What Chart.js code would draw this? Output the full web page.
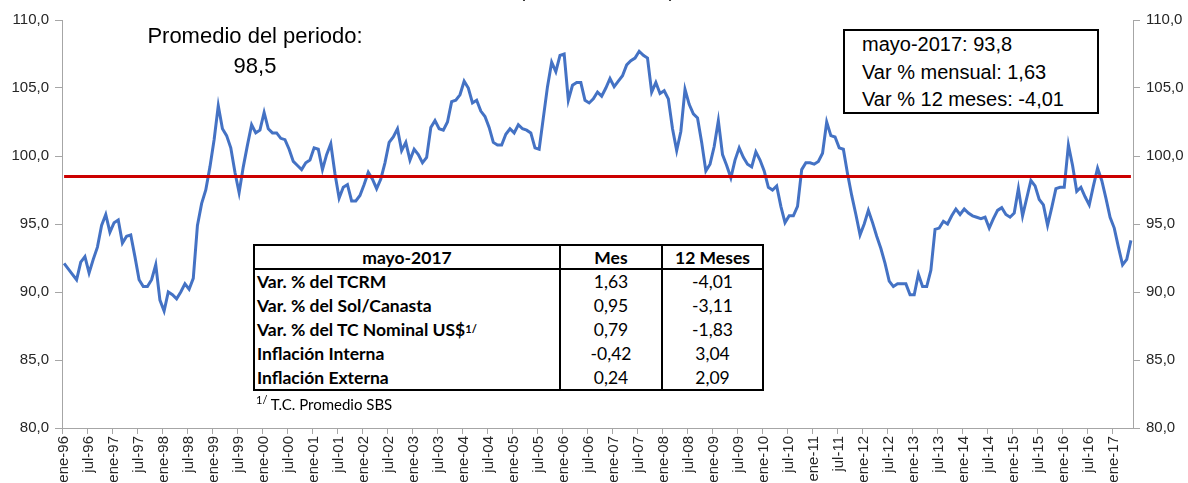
<!DOCTYPE html>
<html lang="es">
<head>
<meta charset="utf-8">
<title>Tipo de cambio real multilateral</title>
<script src="https://cdn.jsdelivr.net/npm/chart.js@4.4.1/dist/chart.umd.min.js"></script>
<style>
  html, body { margin: 0; padding: 0; background: #fff; }
  #lienzo { position: relative; width: 1188px; height: 483px; overflow: hidden;
            font-family: "Liberation Sans", Arial, sans-serif; color: #000; }
  #grafico { position: absolute; left: 0; top: 0; }
  .nota { position: absolute; white-space: nowrap; }
  #titulo { left: 447px; width: 300px; top: -18px; font-size: 18px; line-height: 18px; text-align: center; }
  #promedio { left: 135px; width: 240px; top: 21px; font-size: 22px; line-height: 30px; text-align: center; }
  #recuadro { left: 843px; top: 29px; width: 256px; height: 85px; box-sizing: border-box;
              border: 2px solid #000; padding-left: 17px; font-size: 20px; line-height: 27.5px; background: #fff; }
  #tabla { position: absolute; left: 253px; top: 244px; width: 511px; height: 147px; box-sizing: border-box;
           border: 2.5px solid #000; background: #fff; display: grid;
           grid-template-columns: 304px 102px 1fr; grid-template-rows: 24px repeat(5, 1fr);
           font-family: Lato, "Noto Sans", sans-serif; font-size: 17.5px; }
  #tabla div { display: flex; align-items: center; justify-content: center; white-space: nowrap; }
  #tabla .cab { font-weight: bold; border-bottom: 2.5px solid #000; }
  #tabla .etq { justify-content: flex-start; padding-left: 2px; font-weight: bold; }
  #tabla .num { border-left: 2.5px solid #000; }
  #tabla sup, #pie sup { font-size: 11px; line-height: 0; }
  #pie { left: 256px; top: 395px; font-family: Lato, "Noto Sans", sans-serif; font-size: 15px; }
</style>
</head>
<body>
<div id="lienzo">
  <canvas id="grafico" width="1188" height="483"></canvas>
  <div class="nota" id="titulo"></div>
  <div class="nota" id="promedio"></div>
  <div class="nota" id="recuadro"></div>
  <div id="tabla"></div>
  <div class="nota" id="pie"><sup>1/</sup> T.C. Promedio SBS</div>
</div>
<script>
// Índice de tipo de cambio real multilateral, mensual ene-96 a may-17
const meses = ["ene", "feb", "mar", "abr", "may", "jun", "jul", "ago", "set", "oct", "nov", "dic"];
const anios = ["96", "97", "98", "99", "00", "01", "02", "03", "04", "05", "06",
               "07", "08", "09", "10", "11", "12", "13", "14", "15", "16", "17"];

const tcrm = [
  92.1, 91.7, 91.3, 90.9, 92.2, 92.6, 91.4, 92.4, 93.3, 94.9, 95.7, 94.4,       // 1996
  95.1, 95.3, 93.6, 94.1, 94.2, 92.6, 90.9, 90.4, 90.4, 90.9, 92.0, 89.4,       // 1997
  88.6, 90.0, 89.8, 89.5, 90.0, 90.6, 90.2, 91.0, 94.9, 96.5, 97.5, 99.2,       // 1998
  101.2, 103.7, 102.0, 101.5, 100.6, 98.8, 97.3, 99.2, 100.8, 102.3, 101.7, 101.9, // 1999
  103.2, 102.0, 101.7, 101.7, 101.3, 101.2, 100.5, 99.6, 99.3, 99.0, 99.5, 99.7,  // 2000
  100.6, 100.5, 99.0, 100.1, 100.9, 98.7, 96.9, 97.7, 97.9, 96.7, 96.7, 97.1,     // 2001
  97.9, 98.8, 98.3, 97.6, 98.3, 99.5, 101.0, 101.4, 102.0, 100.4, 101.0, 99.7,    // 2002
  100.5, 100.1, 99.5, 99.9, 102.1, 102.6, 102.0, 101.9, 102.5, 104.0, 104.1, 104.5, // 2003
  105.5, 105.0, 103.9, 104.1, 103.3, 102.9, 102.1, 101.0, 100.8, 100.8, 101.6, 102.0, // 2004
  101.7, 102.3, 102.0, 101.9, 101.7, 100.6, 100.5, 102.8, 105.1, 106.9, 106.2, 107.4, // 2005
  107.5, 104.1, 105.2, 105.4, 105.4, 104.1, 103.9, 104.2, 104.7, 104.4, 105.0, 105.7, // 2006
  105.1, 105.5, 105.9, 106.7, 107.0, 107.2, 107.7, 107.4, 107.2, 104.7, 105.4, 104.6, // 2007
  104.8, 104.2, 102.0, 100.4, 101.8, 104.9, 103.8, 103.1, 102.8, 101.0, 98.9, 99.4,  // 2008
  100.7, 102.6, 100.1, 99.3, 98.4, 99.7, 100.6, 99.9, 99.4, 99.2, 100.3, 99.7,      // 2009
  98.9, 97.7, 97.5, 97.8, 96.3, 95.1, 95.6, 95.6, 96.3, 99.0, 99.5, 99.5,           // 2010
  99.4, 99.6, 100.2, 102.5, 101.5, 101.4, 100.6, 100.5, 98.7, 97.1, 95.7, 94.2,     // 2011
  95.0, 96.0, 95.1, 94.1, 93.2, 92.1, 90.8, 90.4, 90.6, 90.6, 90.6, 89.8,           // 2012
  89.8, 91.3, 90.4, 90.4, 91.6, 94.6, 94.7, 95.2, 95.0, 95.6, 96.1, 95.7,           // 2013
  96.1, 95.8, 95.6, 95.5, 95.4, 95.5, 94.7, 95.4, 96.0, 96.2, 95.7, 95.5,           // 2014
  95.8, 97.6, 95.6, 96.9, 98.2, 97.8, 96.8, 96.4, 94.9, 96.2, 97.6, 97.7,           // 2015
  97.7, 100.8, 99.3, 97.4, 97.7, 97.0, 96.4, 97.8, 99.1, 98.2, 96.9, 95.5,          // 2016
  94.7, 93.3, 92.0, 92.4, 93.8                                                       // 2017
];
const promedio = 98.5;
const ticksY = [80, 85, 90, 95, 100, 105, 110];

// Recuadro y tabla de mayo-2017
const ultimoMes = "mayo-2017";
const ultimoValor = 93.8;
const filasTabla = ["Var. % del TCRM", "Var. % del Sol/Canasta", "Var. % del TC Nominal US$<sup>1/</sup>",
                    "Inflación Interna", "Inflación Externa"];
const varMes = [1.63, 0.95, 0.79, -0.42, 0.24];
const var12 = [-4.01, -3.11, -1.83, 3.04, 2.09];

const categorias = [];
anios.forEach((a) => meses.forEach((m) => categorias.push(m + "-" + a)));
categorias.length = tcrm.length;

const coma = (v, d) => v.toFixed(d).replace(".", ",");
const gris = "#a6a6a6";
const texto = "#262626";

function cargarTextos() {
  document.getElementById("titulo").innerText = "(Índice 2009 = 100)";
  document.getElementById("promedio").innerHTML = "Promedio del periodo:<br>" + coma(promedio, 1);
  document.getElementById("recuadro").innerHTML =
    `${ultimoMes}: ${coma(ultimoValor, 1)}<br>Var % mensual: ${coma(varMes[0], 2)}<br>Var % 12 meses: ${coma(var12[0], 2)}`;

  let html = `<div class="cab">${ultimoMes}</div><div class="cab num">Mes</div><div class="cab num">12 Meses</div>`;
  filasTabla.forEach((f, i) => {
    html += `<div class="etq">${f}</div><div class="num">${coma(varMes[i], 2)}</div><div class="num">${coma(var12[i], 2)}</div>`;
  });
  document.getElementById("tabla").innerHTML = html;
}

function ejeY(posicion, ancho) {
  return {
    type: "linear",
    position: posicion,
    min: ticksY[0],
    max: ticksY[ticksY.length - 1],
    afterBuildTicks: (s) => { s.ticks = ticksY.map((v) => ({ value: v })); },
    afterFit: (s) => { s.width = ancho; },
    grid: { drawOnChartArea: false, tickLength: 7, tickColor: gris },
    border: { color: gris, width: 1 },
    ticks: { padding: 6, color: texto, font: { size: 15 }, callback: (v) => coma(v, 1) },
  };
}

function crearGrafica() {
  Chart.defaults.font.family = '"Liberation Sans", Arial, sans-serif';
  new Chart(document.getElementById("grafico"), {
    type: "line",
    data: {
      labels: categorias,
      datasets: [
        {
          label: "Promedio",
          data: categorias.map(() => promedio),
          borderColor: "#cc0000",
          borderWidth: 3,
          pointRadius: 0,
        },
        {
          label: "TCRM",
          data: tcrm,
          borderColor: "#4472c4",
          borderWidth: 3,
          pointRadius: 0,
          tension: 0,
        },
      ],
    },
    options: {
      responsive: false,
      animation: false,
      layout: { padding: { top: 20, left: 0, right: 0, bottom: 0 } },
      plugins: { legend: { display: false }, tooltip: { enabled: false } },
      scales: {
        x: {
          type: "category",
          offset: true,
          afterFit: (s) => { s.height = 55; },
          grid: {
            drawOnChartArea: false,
            offset: true,
            tickLength: 6,
            tickColor: (ctx) => (ctx.index % 6 === 0 ? gris : "rgba(0,0,0,0)"),
          },
          border: { color: gris, width: 1 },
          ticks: {
            autoSkip: false,
            minRotation: 90,
            maxRotation: 90,
            padding: 2,
            color: texto,
            font: { size: 15 },
            callback: (v, i) => (i % 6 === 0 ? categorias[i] : ""),
          },
        },
        y: ejeY("left", 62),
        y2: ejeY("right", 55),
      },
    },
  });
}

cargarTextos();
crearGrafica();
</script>
</body>
</html>
